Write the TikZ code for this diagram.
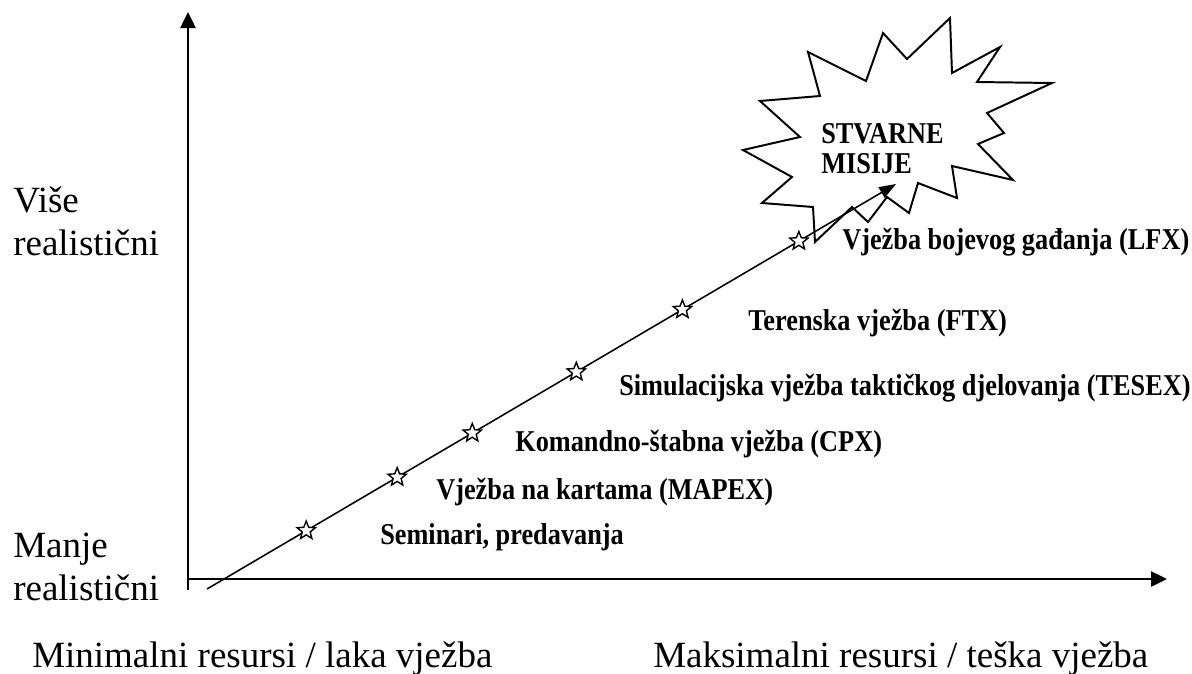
\documentclass[tikz,border=0pt]{standalone}
\usepackage{fontspec}
\setmainfont{Liberation Serif}
\newfontfamily\lblfont[FakeStretch=0.87]{Liberation Serif}
\usetikzlibrary{arrows.meta,shapes.geometric}
\tikzset{
	axisline/.style={line width=1.3pt, -{Triangle[length=0.4cm, width=0.38cm]}},
	stepline/.style={line width=1.1pt, -{Triangle[length=0.42cm, width=0.3cm]}},
	burstline/.style={line width=1.4pt, line join=miter, fill=white},
	mstar/.style={star, star points=5, star point ratio=2.3, minimum size=0.48cm, inner sep=0pt, draw, fill=white, line width=1pt},
	lbl/.style={anchor=base west, inner sep=0pt, font=\lblfont\fontsize{21.5pt}{25pt}\selectfont\bfseries},
	axlbl/.style={anchor=base west, inner sep=0pt, font=\fontsize{26.3pt}{30pt}\selectfont}
}

\begin{document}
\begin{tikzpicture}[x=0.025cm, y=-0.025cm]
			%%%%% START %%%%%
			\useasboundingbox (0, 0) rectangle (1192, 673);
			
			\coordinate (ybot) at (188, 590);
			\coordinate (ytop) at (188, 12);
			\coordinate (xleft) at (188, 579);
			\coordinate (xright) at (1167, 579);
			\draw[axisline] (ybot) -- (ytop);
			\draw[axisline] (xleft) -- (xright);
			
			\draw[burstline] (808, 52) -- (866, 81) -- (883, 33) -- (907, 59) -- (950, 18)
				-- (952, 73) -- (1000, 47) -- (977, 82) -- (1052, 83) -- (987, 113)
				-- (1004, 133) -- (978, 144) -- (1013, 180) -- (952, 166) -- (957, 198)
				-- (918, 183) -- (909, 213) -- (887, 197) -- (868, 222) -- (852, 207)
				-- (815, 242) -- (813, 207) -- (762, 203) -- (792, 177) -- (743, 150)
				-- (800, 137) -- (760, 101) -- (820, 96) -- cycle;
			\node[lbl] (burstA) at (821, 143) {STVARNE};
			\node[lbl] (burstB) at (821, 173) {MISIJE};
			
			\coordinate (lo) at (207, 589);
			\coordinate (hi) at (896, 184);
			\draw[stepline] (lo) -- (hi)
				node[mstar, pos=0.144] (s1) {}
				node[mstar, pos=0.276] (s2) {}
				node[mstar, pos=0.385] (s3) {}
				node[mstar, pos=0.536] (s4) {}
				node[mstar, pos=0.690] (s5) {}
				node[mstar, pos=0.859] (s6) {};
			
			\node[lbl] (sem) at (380, 544) {Seminari, predavanja};
			\node[lbl] (mapex) at (436, 499) {Vježba na kartama (MAPEX)};
			\node[lbl] (cpx) at (515, 451) {Komandno-štabna vježba (CPX)};
			\node[lbl] (tesex) at (619, 395) {Simulacijska vježba taktičkog djelovanja (TESEX)};
			\node[lbl] (ftx) at (748, 330) {Terenska vježba (FTX)};
			\node[lbl] (lfx) at (842, 249) {Vježba bojevog gađanja (LFX)};
			
			\node[axlbl] (hiA) at (13, 212) {Više};
			\node[axlbl] (hiB) at (13, 255) {realistični};
			\node[axlbl] (loA) at (13, 557) {Manje};
			\node[axlbl] (loB) at (13, 600) {realistični};
			
			\node[axlbl] (minres) at (32, 667) {Minimalni resursi / laka vježba};
			\node[axlbl] (maxres) at (653, 667) {Maksimalni resursi / teška vježba};
			
			%%%%% END %%%%%
		\end{tikzpicture}
\end{document}
